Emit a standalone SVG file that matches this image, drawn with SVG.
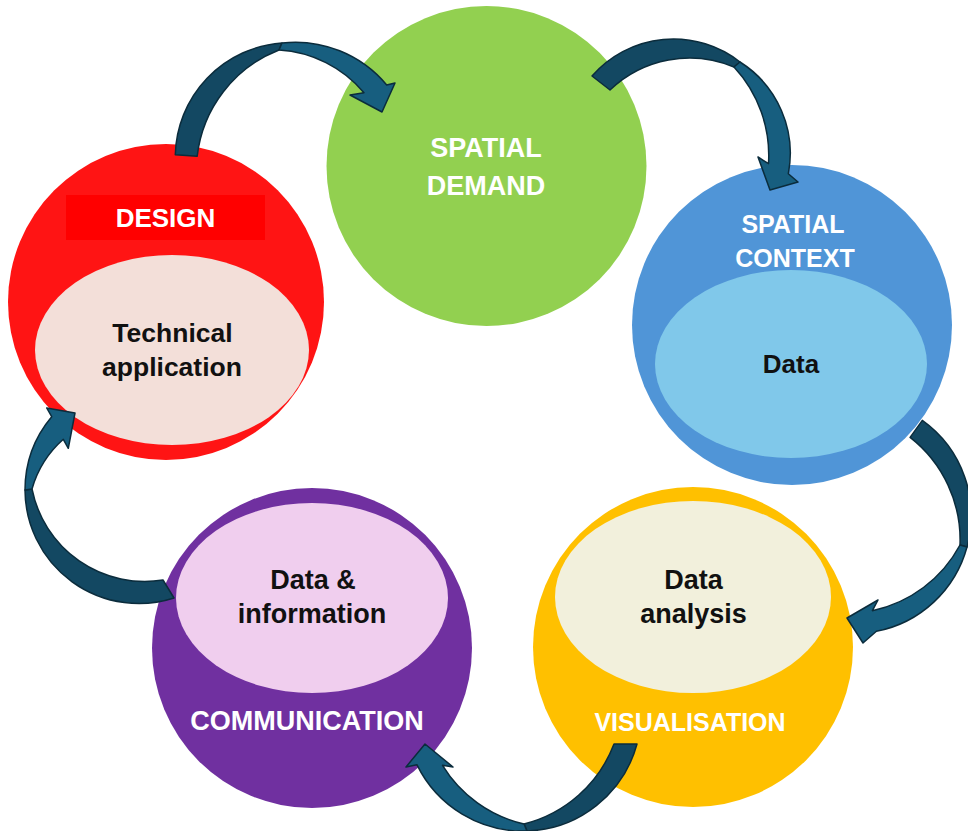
<svg xmlns="http://www.w3.org/2000/svg" width="968" height="831" viewBox="0 0 968 831">
  <style>
    .title { font-family: "Liberation Sans", Arial, sans-serif; font-weight: bold; fill: #ffffff; text-anchor: middle; }
    .body { font-family: "Liberation Sans", Arial, sans-serif; font-weight: bold; fill: #111111; text-anchor: middle; }
    .back { fill: #134862; stroke: #0b2c3c; stroke-width: 1.5; stroke-linejoin: round; }
    .front { fill: #175e7f; stroke: #0b2c3c; stroke-width: 1.5; stroke-linejoin: round; }
  </style>
  <rect width="968" height="831" fill="#ffffff"/>

  <!-- cycle stages -->
  <g id="spatial-demand">
    <circle cx="486.5" cy="166" r="160" fill="#92d050"/>
    <text class="title" x="486" y="157" font-size="27">SPATIAL</text>
    <text class="title" x="486" y="195" font-size="27">DEMAND</text>
  </g>

  <g id="spatial-context">
    <circle cx="792" cy="325" r="160" fill="#5095d7"/>
    <ellipse cx="791" cy="364" rx="136" ry="94" fill="#80c8ea"/>
    <text class="title" x="793" y="233" font-size="25">SPATIAL</text>
    <text class="title" x="795" y="267" font-size="25">CONTEXT</text>
    <text class="body" x="791" y="373" font-size="26">Data</text>
  </g>

  <g id="visualisation">
    <circle cx="693" cy="647" r="160" fill="#ffc000"/>
    <ellipse cx="693" cy="597" rx="138" ry="96" fill="#f2f0dc"/>
    <text class="body" x="693.5" y="589" font-size="27">Data</text>
    <text class="body" x="693.5" y="623" font-size="27">analysis</text>
    <text class="title" x="690" y="731" font-size="25">VISUALISATION</text>
  </g>

  <g id="communication">
    <circle cx="312" cy="648" r="160" fill="#7030a0"/>
    <ellipse cx="312" cy="598" rx="136" ry="95" fill="#f0ceee"/>
    <text class="body" x="313" y="589" font-size="27">Data &amp;</text>
    <text class="body" x="312" y="623" font-size="27">information</text>
    <text class="title" x="307" y="730" font-size="27">COMMUNICATION</text>
  </g>

  <g id="design">
    <circle cx="166" cy="302" r="158" fill="#ff1414"/>
    <rect x="66" y="195" width="199" height="45" fill="#ff0000"/>
    <text class="title" x="165.5" y="227" font-size="26">DESIGN</text>
    <ellipse cx="172" cy="350" rx="137" ry="95" fill="#f3dfd9"/>
    <text class="body" x="172.5" y="342" font-size="26.5">Technical</text>
    <text class="body" x="172" y="376" font-size="26.5">application</text>
  </g>

  <!-- curved ribbon arrows: a darker back half from the tail, a lighter front half to the head -->
  <g id="connectors">
    <g id="design-to-demand">
      <path class="back" d="M175.3,154.7 A115,115 0 0 1 282,43 L279,50 A130,130 0 0 0 197.2,156.2 Z"/>
      <path class="front" d="M282,43 A119,119 0 0 1 386.7,85 L395,83 L382,112 L350,95 L364,92.7 A120,120 0 0 0 279,50 Z"/>
    </g>
    <g id="demand-to-context">
      <path class="back" d="M592,76 A108,108 0 0 1 740,62 L734,67 A115,115 0 0 0 610,90 Z"/>
      <path class="front" d="M740,62 A108,108 0 0 1 788.3,173.8 L798,182 L770,190 L758,157 L768.5,163.7 A130,130 0 0 0 734,67 Z"/>
    </g>
    <g id="context-to-visualisation">
      <path class="back" d="M922.3,420.4 A117,117 0 0 1 967,547 L960,545 A130,130 0 0 0 910.1,437.4 Z"/>
      <path class="front" d="M967,547 A117,117 0 0 1 876.4,631.3 L863,643 L847,618 L878,600 L872.4,610.7 A130,130 0 0 0 960,545 Z"/>
    </g>
    <g id="visualisation-to-communication">
      <path class="back" d="M637,744 A118,118 0 0 1 527,831 L524,824 A130,130 0 0 0 614,744 Z"/>
      <path class="front" d="M527,831 A118,118 0 0 1 416.9,764.7 L406,767 L425,744 L453,767 L442.5,765.3 A130,130 0 0 0 524,824 Z"/>
    </g>
    <g id="communication-to-design">
      <path class="back" d="M174,598 A114,114 0 0 1 25,490 L32,489 A115,115 0 0 0 163,580 Z"/>
      <path class="front" d="M25,490 A114,114 0 0 1 51.7,416.7 L46.7,408 L75,413 L68.3,448.3 L63.3,439.3 A105,105 0 0 0 32,489 Z"/>
    </g>
  </g>
</svg>
